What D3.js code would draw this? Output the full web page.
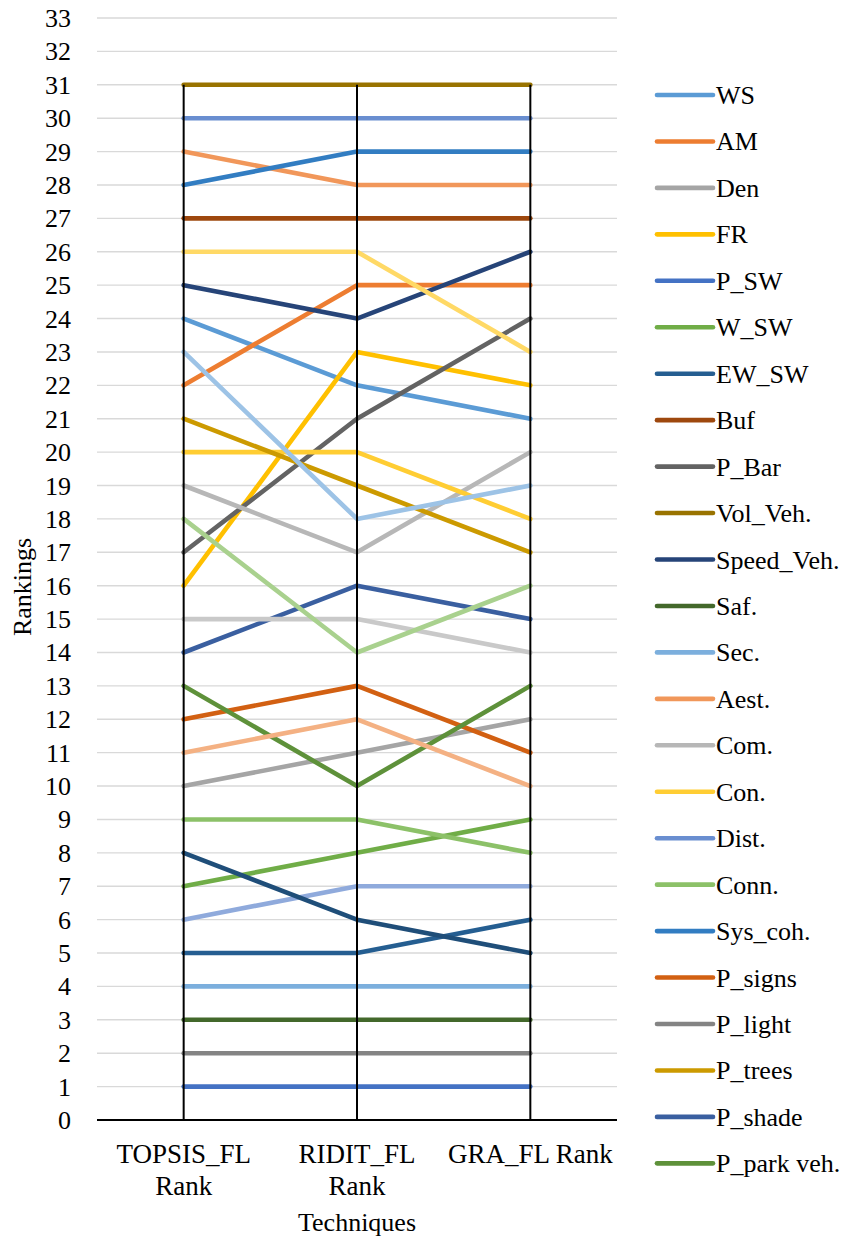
<!DOCTYPE html>
<html>
<head>
<meta charset="utf-8">
<script src="https://cdn.jsdelivr.net/npm/d3@7/dist/d3.min.js"></script>
</head>
<body style="margin:0;padding:0;background:#ffffff;font-family:'Liberation Serif';">
<svg id="chart" width="849" height="1240" style="display:block;"></svg>
<script>
// Ranking techniques along the x axis
const techniques = ["TOPSIS_FL Rank", "RIDIT_FL Rank", "GRA_FL Rank"];

// Criteria names, in series order
const criteria = [
  "WS", "AM", "Den", "FR", "P_SW", "W_SW", "EW_SW", "Buf", "P_Bar", "Vol_Veh.",
  "Speed_Veh.", "Saf.", "Sec.", "Aest.", "Com.", "Con.", "Dist.", "Conn.", "Sys_coh.",
  "P_signs", "P_light", "P_trees", "P_shade", "P_park veh.",
  "C25", "C26", "C27", "C28", "C29", "C30", "C31"
];

// Ranks per criterion: [TOPSIS_FL, RIDIT_FL, GRA_FL]
const ranks = [
  [24, 22, 21], [22, 25, 25], [10, 11, 12], [16, 23, 22], [1, 1, 1],
  [7, 8, 9],    [5, 5, 6],    [27, 27, 27], [17, 21, 24], [31, 31, 31],
  [25, 24, 26], [3, 3, 3],    [4, 4, 4],    [29, 28, 28], [19, 17, 20],
  [20, 20, 18], [30, 30, 30], [9, 9, 8],    [28, 29, 29], [12, 13, 11],
  [2, 2, 2],    [21, 19, 17], [14, 16, 15], [13, 10, 13], [23, 18, 19],
  [11, 12, 10], [15, 15, 14], [26, 26, 23], [6, 7, 7],    [18, 14, 16],
  [8, 6, 5]
];

// Series colours (Office theme accents and their tints/shades)
const colors = [
  "#5B9BD5", "#ED7D31", "#A5A5A5", "#FFC000", "#4472C4", "#70AD47",
  "#255E91", "#9E480E", "#636363", "#997300", "#264478", "#43682B",
  "#7CAFDD", "#F1975A", "#B7B7B7", "#FFCD33", "#698ED0", "#8CC168",
  "#327DC2", "#D26012", "#848484", "#CC9A00", "#3A5FA0", "#5E913A",
  "#9DC3E6", "#F4B183", "#C9C9C9", "#FFD966", "#8FAADC", "#A9D18E",
  "#1F4E79"
];

// Y axis ticks
const yTicks = d3.range(0, 34);

// The legend box only has room for this many entries
const legendCount = 24;

const SERIF = '"Liberation Serif"';

const svg = d3.select("#chart");
const plot = { left: 97, right: 617, top: 18, bottom: 1120 };

const x = d3.scaleBand().domain(techniques).range([plot.left, plot.right]);
const xc = d => x(d) + x.bandwidth() / 2;
const y = d3.scaleLinear().domain([0, 33]).range([plot.bottom, plot.top]);

// Horizontal gridlines
svg.append("g")
  .selectAll("line")
  .data(yTicks)
  .join("line")
  .attr("x1", plot.left).attr("x2", plot.right)
  .attr("y1", d => y(d)).attr("y2", d => y(d))
  .attr("stroke", "#d9d9d9").attr("stroke-width", 1.4);

// Y tick labels
svg.selectAll("text.ytick")
  .data(yTicks)
  .join("text")
  .attr("class", "ytick")
  .attr("x", plot.left - 26).attr("y", d => y(d) + 9)
  .attr("text-anchor", "end")
  .attr("font-size", 26)
  .style("font-family", SERIF)
  .text(d => d3.format("d")(d));

// Series lines
const line = d3.line()
  .x((v, i) => xc(techniques[i]))
  .y(v => y(v));

svg.append("g")
  .selectAll("path")
  .data(ranks)
  .join("path")
  .attr("d", d => line(d))
  .attr("fill", "none")
  .attr("stroke", (d, i) => colors[i])
  .attr("stroke-width", 4.6)
  .attr("stroke-linecap", "round")
  .attr("stroke-linejoin", "round");

// Drop lines from the highest rank down to the axis
const maxRank = techniques.map((t, i) => d3.max(ranks, r => r[i]));
svg.append("g")
  .selectAll("line")
  .data(techniques)
  .join("line")
  .attr("x1", d => xc(d)).attr("x2", d => xc(d))
  .attr("y1", (d, i) => y(maxRank[i])).attr("y2", y(0))
  .attr("stroke", "#000").attr("stroke-width", 2);

// X axis line
svg.append("line")
  .attr("x1", plot.left).attr("x2", plot.right)
  .attr("y1", y(0)).attr("y2", y(0))
  .attr("stroke", "#000").attr("stroke-width", 2);

// Category labels; long names break before the last word
const wrapLabel = s => {
  if (s.length <= 12) return [s];
  const k = s.lastIndexOf(" ");
  return [s.slice(0, k), s.slice(k + 1)];
};
const catLines = techniques.flatMap(t =>
  wrapLabel(t).map((txt, i) => ({ t, txt, i })));
svg.selectAll("text.cat")
  .data(catLines)
  .join("text")
  .attr("class", "cat")
  .attr("x", d => xc(d.t))
  .attr("y", d => y(0) + 43 + d.i * 32)
  .attr("text-anchor", "middle")
  .attr("font-size", 27)
  .style("font-family", SERIF)
  .text(d => d.txt);

// Axis titles
svg.append("text")
  .attr("class", "title")
  .attr("x", xc(techniques[1])).attr("y", 1231)
  .attr("text-anchor", "middle")
  .attr("font-size", 26)
  .style("font-family", SERIF)
  .text("Techniques");

svg.append("text")
  .attr("class", "title")
  .attr("transform", `translate(31,${(plot.top + plot.bottom) / 2 + 18}) rotate(-90)`)
  .attr("text-anchor", "middle")
  .attr("font-size", 26)
  .style("font-family", SERIF)
  .text("Rankings");

// Legend
const legendItems = criteria.slice(0, legendCount);
svg.append("g")
  .selectAll("line")
  .data(legendItems)
  .join("line")
  .attr("x1", 657).attr("x2", 713)
  .attr("y1", (d, i) => 95 + i * 46.45).attr("y2", (d, i) => 95 + i * 46.45)
  .attr("stroke", (d, i) => colors[i]).attr("stroke-width", 4.6)
  .attr("stroke-linecap", "round");
svg.selectAll("text.leg")
  .data(legendItems)
  .join("text")
  .attr("class", "leg")
  .attr("x", 716).attr("y", (d, i) => 95 + i * 46.45 + 9)
  .attr("font-size", 26)
  .style("font-family", SERIF)
  .text(d => d);

// Re-apply the serif face once the font is ready
if (document.fonts && document.fonts.load) {
  document.fonts.load('26px "Liberation Serif"').then(() => {
    svg.selectAll("text").style("font-family", null).style("font-family", SERIF);
  }).catch(() => {});
}
</script>
</body>
</html>
